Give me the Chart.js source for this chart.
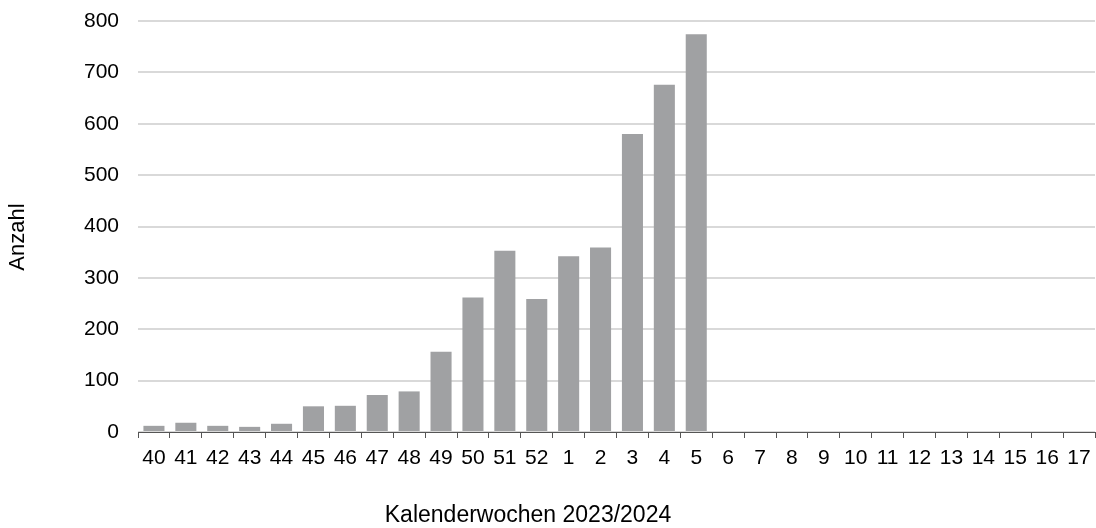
<!DOCTYPE html>
<html>
<head>
<meta charset="utf-8">
<script src="https://cdn.jsdelivr.net/npm/chart.js@4/dist/chart.umd.min.js"></script>
<style>
html,body{margin:0;padding:0;background:#fff;}
#wrap{position:relative;width:1096px;height:528px;}
</style>
</head>
<body>
<div id="wrap"><canvas id="c" width="1096" height="528"></canvas></div>
<script>
const weeks = ["40","41","42","43","44","45","46","47","48","49","50","51","52","1","2","3","4","5","6","7","8","9","10","11","12","13","14","15","16","17"];
const counts = [12,18,12,10,16,50,51,72,79,156,262,353,259,342,359,580,676,774,null,null,null,null,null,null,null,null,null,null,null,null];
const yTicks = [0,100,200,300,400,500,600,700,800];
const yTitle = "Anzahl";
const xTitle = "Kalenderwochen 2023/2024";

const FONT = "'Liberation Sans', Arial, sans-serif";

const titlesPlugin = {
  id: 'titlesPlugin',
  afterDraw(chart) {
    const ctx = chart.ctx;
    ctx.save();
    ctx.fillStyle = "#000";
    ctx.textAlign = "center";
    ctx.textBaseline = "middle";
    ctx.font = "23px " + FONT;
    ctx.fillText(xTitle, 528, 516);
    ctx.translate(18, 237);
    ctx.rotate(-Math.PI / 2);
    ctx.font = "22px " + FONT;
    ctx.fillText(yTitle, 0, 0);
    ctx.restore();
  }
};

new Chart(document.getElementById('c'), {
  type: 'bar',
  data: {
    labels: weeks,
    datasets: [{
      data: counts,
      backgroundColor: '#a0a1a3',
      borderWidth: 0,
      categoryPercentage: 0.66,
      barPercentage: 1.0
    }]
  },
  options: {
    responsive: false,
    animation: false,
    devicePixelRatio: 1,
    layout: { padding: { top: 21, right: 1, bottom: 0, left: 0 } },
    plugins: { legend: { display: false }, tooltip: { enabled: false } },
    scales: {
      x: {
        grid: { offset: true, drawOnChartArea: false, drawTicks: true, tickLength: 6, color: '#555', lineWidth: 1 },
        border: { display: true, color: '#555', width: 1 },
        ticks: { color: '#000', font: { family: FONT, size: 21 }, padding: 8, maxRotation: 0, autoSkip: false },
        afterFit(scale) { scale.height = 96; scale.paddingLeft = 0; scale.paddingRight = 0; }
      },
      y: {
        min: 0, max: 800,
        afterBuildTicks(scale) { scale.ticks = yTicks.map(v => ({ value: v })); },
        grid: { color: '#d9d9d9', lineWidth: 2, drawTicks: false },
        border: { display: false },
        ticks: { color: '#000', font: { family: FONT, size: 21 }, padding: 19 },
        afterFit(scale) { scale.width = 138; scale.paddingTop = 0; scale.paddingBottom = 0; }
      }
    }
  },
  plugins: [titlesPlugin]
});
</script>
</body>
</html>
